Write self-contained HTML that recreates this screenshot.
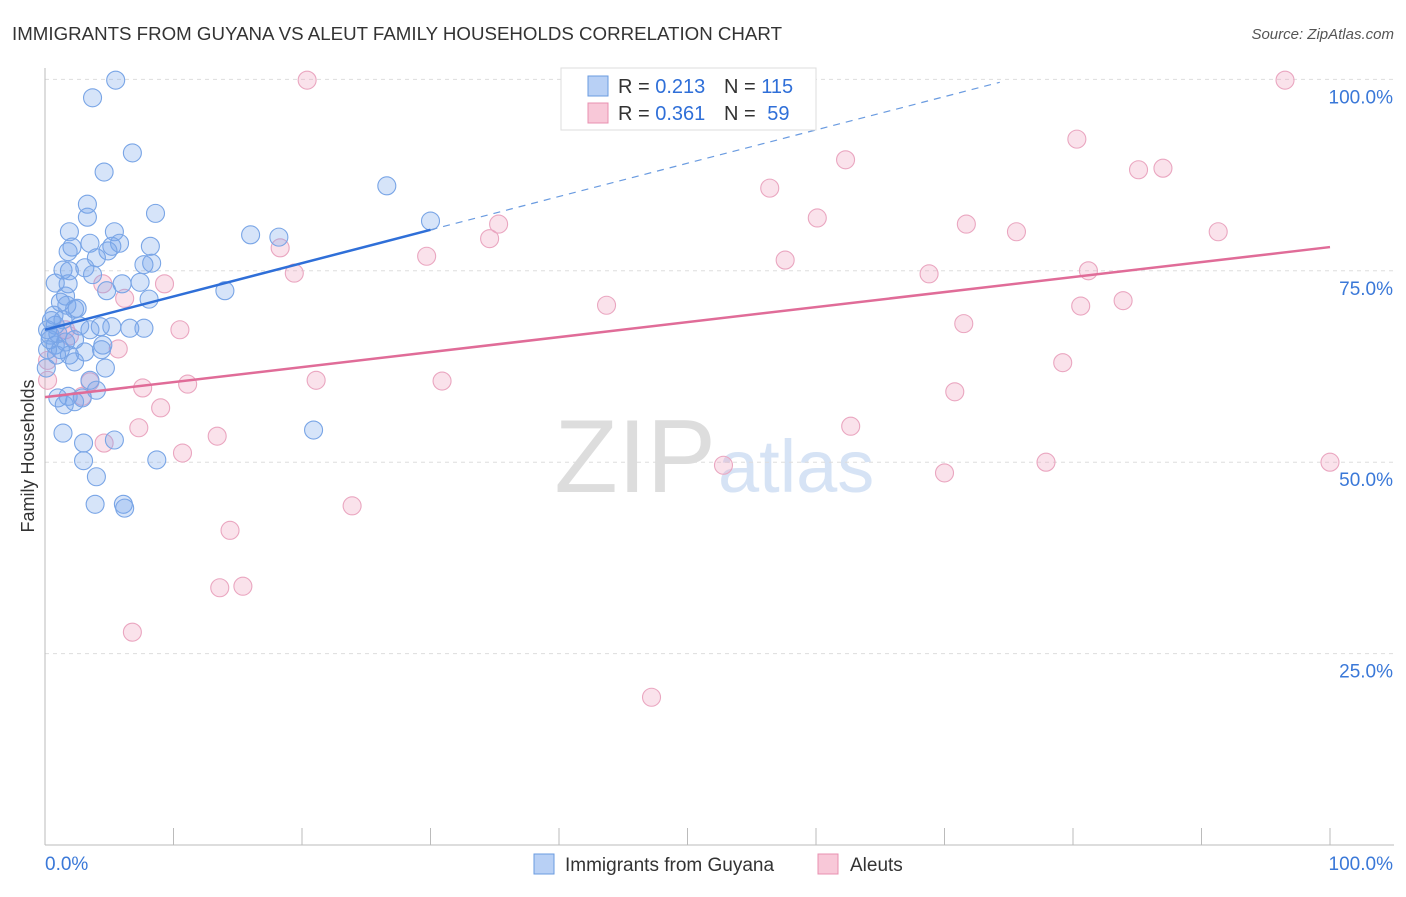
<!DOCTYPE html>
<html><head><meta charset="utf-8"><style>
body{margin:0;background:#fff;font-family:"Liberation Sans",sans-serif;}
svg text{font-family:"Liberation Sans",sans-serif;}
</style></head><body>
<svg id="chart" width="1406" height="892">
<text x="12" y="40" font-size="18.7" fill="#333" textLength="770">IMMIGRANTS FROM GUYANA VS ALEUT FAMILY HOUSEHOLDS CORRELATION CHART</text>
<text x="1394" y="39" font-size="15" fill="#555" font-style="italic" text-anchor="end">Source: ZipAtlas.com</text>
<text x="716" y="492" font-size="104" fill="#ddd" font-family="Liberation Serif" text-anchor="end">ZIP</text>
<text x="718" y="492" font-size="74" fill="#d6e3f5">atlas</text>
<g id="grid"></g>
<g id="axes"></g>
<g id="marks"></g>
<text x="34" y="456" font-size="18" fill="#333" transform="rotate(-90 34 456)" text-anchor="middle">Family Households</text>
<g>
<rect x="561" y="68" width="255" height="62" fill="#fff" stroke="#ddd"/>
<rect x="588" y="76" width="20" height="20" fill="#b8d0f5" stroke="#6a9be0"/>
<rect x="588" y="103" width="20" height="20" fill="#f8c8d8" stroke="#e890b0"/>
<text x="618" y="93" font-size="20" fill="#333">R = <tspan fill="#2f6fd8">0.213</tspan></text>
<text x="724" y="93" font-size="20" fill="#333">N = <tspan fill="#2f6fd8">115</tspan></text>
<text x="618" y="120" font-size="20" fill="#333">R = <tspan fill="#2f6fd8">0.361</tspan></text>
<text x="724" y="120" font-size="20" fill="#333">N = <tspan fill="#2f6fd8" dx="6">59</tspan></text>
</g>
<g>
<rect x="534" y="854" width="20" height="20" fill="#b8d0f5" stroke="#6a9be0"/>
<text x="565" y="871" font-size="19" fill="#333">Immigrants from Guyana</text>
<rect x="818" y="854" width="20" height="20" fill="#f8c8d8" stroke="#e890b0"/>
<text x="850" y="871" font-size="19" fill="#333">Aleuts</text>
</g>
</svg>
<script>
const yTicks=[100,75,50,25];
const yTickLabels=["100.0%","75.0%","50.0%","25.0%"];
const xTickLabels=["0.0%","100.0%"];
const blueX=[5.5,3.7,6.8,4.6,26.6,3.3,8.6,3.3,30.0,1.9,5.4,16.0,18.2,3.5,5.8,2.1,8.2,5.2,1.8,4.9,4.0,8.3,7.7,1.4,1.9,3.1,3.7,0.8,1.8,6.0,7.4,4.8,14.0,1.6,8.1,1.2,1.7,2.3,0.7,1.4,2.5,0.8,5.2,7.7,6.6,4.3,3.5,2.7,0.2,0.4,0.8,1.2,1.9,3.1,4.5,4.4,2.3,4.7,0.1,3.5,4.0,1.8,2.9,1.0,2.3,1.5,1.4,5.4,3.0,8.7,3.0,4.0,3.9,6.1,6.2,20.9,0.4,0.2,0.9,1.6,2.3,0.5,1.0];
const blueY=[99.9,97.6,90.4,87.9,86.1,83.7,82.5,82.0,81.5,80.1,80.1,79.7,79.4,78.6,78.6,78.1,78.2,78.2,77.5,77.6,76.7,76.0,75.8,75.1,75.0,75.4,74.5,73.4,73.3,73.3,73.5,72.4,72.4,71.7,71.3,70.9,70.5,70.0,69.2,68.6,70.1,67.9,67.7,67.5,67.5,67.7,67.3,67.8,67.3,66.0,65.3,64.7,64.0,64.4,65.3,64.7,63.1,62.3,62.3,60.7,59.4,58.6,58.4,58.4,57.9,57.5,53.8,52.9,52.5,50.3,50.2,48.1,44.5,44.5,44.0,54.2,66.6,64.7,64.0,65.7,66.0,68.5,66.8];
const pinkX=[20.4,96.5,55.5,80.3,62.3,85.1,87.0,56.4,60.1,35.3,71.7,75.6,91.3,34.6,18.3,57.6,19.4,29.7,68.8,81.2,9.3,4.5,6.2,43.7,80.6,83.9,71.5,10.5,1.6,1.9,5.7,79.2,0.2,3.5,21.1,30.9,7.6,11.1,70.8,9.0,2.9,7.3,62.7,13.4,4.6,10.7,52.8,77.9,100,70.0,23.9,14.4,15.4,13.6,6.8,47.2,0.2];
const pinkY=[99.9,99.9,99.7,92.2,89.5,88.2,88.4,85.8,81.9,81.1,81.1,80.1,80.1,79.2,78.0,76.4,74.7,76.9,74.6,75.0,73.3,73.3,71.4,70.5,70.4,71.1,68.1,67.3,67.3,66.5,64.8,63.0,60.7,60.5,60.7,60.6,59.7,60.2,59.2,57.1,58.6,54.5,54.7,53.4,52.5,51.2,49.6,50.0,50.0,48.6,44.3,41.1,33.8,33.6,27.8,19.3,63.3];
const blueFit=[67.3,0.435];
const pinkFit=[58.5,0.196];
const NS="http://www.w3.org/2000/svg";
const X=v=>45+v*12.85, Y=v=>845-v*7.656;
function mk(tag,attrs,parent){const e=document.createElementNS(NS,tag);for(const k in attrs)e.setAttribute(k,attrs[k]);parent.appendChild(e);return e;}
const grid=document.getElementById('grid'),axes=document.getElementById('axes'),marks=document.getElementById('marks');
yTicks.forEach((t,i)=>{
 const l=mk('line',{x1:45,x2:1394,y1:Y(t),y2:Y(t),stroke:'#ddd','stroke-dasharray':'4,4'},grid);
 
 
 const tx=mk('text',{x:1393,y:Y(t)+24,'font-size':19,fill:'#3a78d8','text-anchor':'end'},axes);
 tx.textContent=yTickLabels[i];
 
 
});
mk('line',{x1:45,x2:45,y1:68,y2:845,stroke:'#bbb'},axes);
mk('line',{x1:45,x2:1394,y1:845,y2:845,stroke:'#bbb'},axes);
for(let i=0;i<=10;i++){mk('line',{x1:X(i*10),x2:X(i*10),y1:828,y2:845,stroke:'#bbb'},axes);}
[0,100].forEach((v,i)=>{const t=mk('text',{x:i?1393:45,y:870,'font-size':19,fill:'#3a78d8','text-anchor':i?'end':'start'},axes);t.textContent=xTickLabels[i];
 
 });
function dots(xs,ys,fill,stroke,name){xs.forEach((x,i)=>{const c=mk('circle',{cx:X(x),cy:Y(ys[i]),r:9,fill:fill,stroke:stroke,'stroke-width':1.1},marks);
 
 });}
dots(pinkX,pinkY,'rgba(240,160,190,0.3)','#eaa6c0','point-aleuts');
dots(blueX,blueY,'rgba(120,165,235,0.3)','#79a5e6','point-guyana');
const f=(p,x)=>p[0]+p[1]*x;
let l1=mk('line',{x1:X(0),y1:Y(f(blueFit,0)),x2:X(30),y2:Y(f(blueFit,30)),stroke:'#2f6fd8','stroke-width':2.5},marks);


let l2=mk('line',{x1:X(30),y1:Y(f(blueFit,30)),x2:X(74.3),y2:Y(f(blueFit,74.3)),stroke:'#6a9be0','stroke-width':1.2,'stroke-dasharray':'7,6'},marks);


let l3=mk('line',{x1:X(0),y1:Y(f(pinkFit,0)),x2:X(100),y2:Y(f(pinkFit,100)),stroke:'#e06c98','stroke-width':2.5},marks);


</script>
</body></html>
